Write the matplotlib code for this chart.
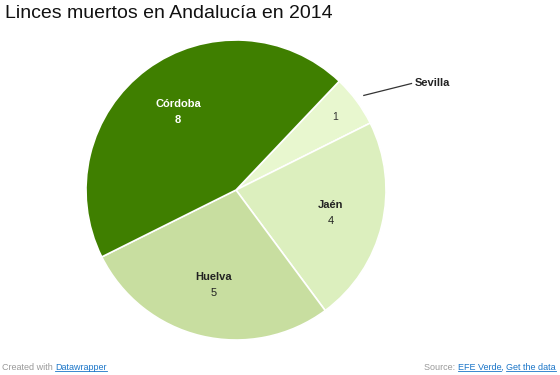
import numpy as np
import matplotlib
matplotlib.use('Agg')
import matplotlib.pyplot as plt

plt.rcParams['font.family'] = ['Liberation Sans', 'DejaVu Sans']

provincias = ['Sevilla', 'Jaén', 'Huelva', 'Córdoba']
muertos = [1, 4, 5, 8]
colores = ['#e8f7cf', '#dcefbe', '#c8dea0', '#3f7f00']
texto_col = ['#333333', '#222222', '#222222', '#ffffff']

W, H = 560, 375
fig = plt.figure(figsize=(W / 100, H / 100), dpi=100)

# pie centre (236, 190) px, radius 150 px
cx, cy, r = 236, 190, 150
ax = fig.add_axes([(cx - r) / W, (H - cy - r) / H, 2 * r / W, 2 * r / H])
wedges, _ = ax.pie(muertos, colors=colores, startangle=46.5, counterclock=False,
                   wedgeprops=dict(edgecolor='white', linewidth=1.2))
ax.set_xlim(-1, 1)
ax.set_ylim(-1, 1)
ax.axis('off')

for w, nom, val, tc in zip(wedges, provincias, muertos, texto_col):
    ang = np.deg2rad((w.theta1 + w.theta2) / 2)
    if nom == 'Sevilla':
        d = 0.82
        ax.text(d * np.cos(ang), d * np.sin(ang), str(val), ha='center', va='center',
                fontsize=7.5, color=tc)
        # outside label with leader line
        x0, y0 = 1.06 * np.cos(ang), 1.06 * np.sin(ang)
        ax.plot([x0, 1.17], [y0, 0.71], color='#333333', lw=0.9, clip_on=False)
        ax.text(1.19, 0.71, nom, ha='left', va='center', fontsize=8,
                fontweight='bold', color='#222222', clip_on=False)
    else:
        d = 0.65
        x, y = d * np.cos(ang), d * np.sin(ang)
        peso = 'bold' if nom == 'Córdoba' else 'normal'
        ax.text(x, y + 0.05, nom, ha='center', va='center', fontsize=8,
                fontweight='bold', color=tc)
        ax.text(x, y - 0.055, str(val), ha='center', va='center', fontsize=8,
                fontweight=peso, color=tc)

fig.text(5 / W, 1 - 14 / H, 'Linces muertos en Andalucía en 2014', fontsize=14,
         color='#111111', ha='left', va='center')

# footer
fig.canvas.draw()
rend = fig.canvas.get_renderer()


def underline(t):
    bb = t.get_window_extent(rend)
    fig.add_artist(plt.Line2D([bb.x0 / W, bb.x1 / W], [(bb.y0 + 0.5) / H] * 2,
                              color=t.get_color(), lw=0.6))


fy = 1 - 367 / H
gris = '#999999'
azul = '#1a75c8'
t1 = fig.text(2 / W, fy, 'Created with ', fontsize=6.5, color=gris, va='center')
fig.canvas.draw()
bb = t1.get_window_extent(rend)
t2 = fig.text(bb.x1 / W, fy, 'Datawrapper', fontsize=6.5, color=azul, va='center')
underline(t2)

t5 = fig.text(556 / W, fy, 'Get the data', fontsize=6.5, color=azul,
              va='center', ha='right')
fig.canvas.draw()
bb = t5.get_window_extent(rend)
t4 = fig.text(bb.x0 / W, fy, ', ', fontsize=6.5, color=azul, va='center', ha='right')
fig.canvas.draw()
bb = t4.get_window_extent(rend)
t3 = fig.text(bb.x0 / W, fy, 'EFE Verde', fontsize=6.5, color=azul, va='center',
              ha='right')
fig.canvas.draw()
bb = t3.get_window_extent(rend)
fig.text(bb.x0 / W, fy, 'Source: ', fontsize=6.5, color=gris, va='center', ha='right')
underline(t5)
underline(t3)

fig.savefig('out.png', dpi=100)
